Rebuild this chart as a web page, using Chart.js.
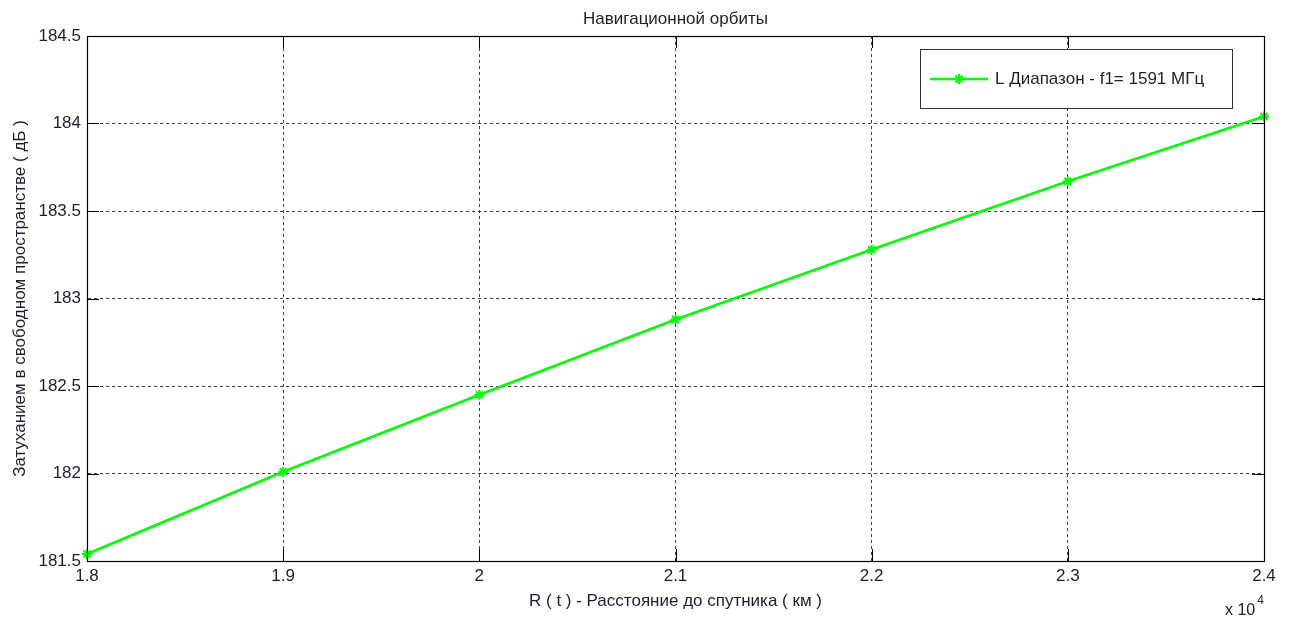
<!DOCTYPE html>
<html>
<head>
<meta charset="utf-8">
<script src="https://cdn.jsdelivr.net/npm/chart.js@4/dist/chart.umd.min.js"></script>
<style>
html,body{margin:0;padding:0;background:#fff;}
#wrap{width:1294px;height:621px;position:relative;}
</style>
</head>
<body>
<div id="wrap"><canvas id="c" width="1294" height="621"></canvas></div>
<script>
// Data (R in units of 10^4 km)
const distances = [1.8, 1.9, 2.0, 2.1, 2.2, 2.3, 2.4];
const lossDb = [181.54, 182.01, 182.45, 182.88, 183.28, 183.67, 184.04];
const seriesLabel = 'L Диапазон - f1= 1591 МГц';
const chartTitle = 'Навигационной орбиты';
const xTitle = 'R ( t ) - Расстояние до спутника ( км )';
const yTitle = 'Затуханием в свободном пространстве ( дБ )';
const xMultiplier = ['x 10', '4'];

const FONT = '"Liberation Sans", Arial, sans-serif';
const TEXT = '#1e1e2e';
const GREEN = '#00ff00';

const boxPlugin = {
  id: 'boxPlugin',
  afterDatasetsDraw(chart) {
    const {ctx, chartArea: a, scales} = chart;
    ctx.save();
    // inward ticks
    ctx.strokeStyle = '#000';
    ctx.lineWidth = 1;
    const L = 12;
    scales.x.ticks.forEach(t => {
      const x = Math.round(scales.x.getPixelForValue(t.value)) + 0.5;
      ctx.beginPath();
      ctx.moveTo(x, a.bottom); ctx.lineTo(x, a.bottom - L);
      ctx.moveTo(x, a.top); ctx.lineTo(x, a.top + L);
      ctx.stroke();
    });
    scales.y.ticks.forEach(t => {
      const y = Math.round(scales.y.getPixelForValue(t.value)) + 0.5;
      ctx.beginPath();
      ctx.moveTo(a.left, y); ctx.lineTo(a.left + L, y);
      ctx.moveTo(a.right, y); ctx.lineTo(a.right - L, y);
      ctx.stroke();
    });
    // frame
    ctx.strokeStyle = '#000';
    ctx.lineWidth = 1.2;
    ctx.strokeRect(Math.round(a.left) + 0.5, Math.round(a.top) + 0.5, Math.round(a.right - a.left), Math.round(a.bottom - a.top));
    // legend box
    const lx = 920, ly = 49, lw = 312, lh = 59;
    ctx.fillStyle = '#fff';
    ctx.fillRect(lx, ly, lw, lh);
    ctx.strokeStyle = '#333';
    ctx.lineWidth = 1;
    ctx.strokeRect(lx + 0.5, ly + 0.5, lw, lh);
    const cy = ly + 30;
    ctx.strokeStyle = GREEN;
    ctx.lineWidth = 2.5;
    ctx.beginPath(); ctx.moveTo(930, cy); ctx.lineTo(988, cy); ctx.stroke();
    // star marker
    const mx = 959, r = 5;
    ctx.lineWidth = 2;
    ctx.beginPath();
    ctx.moveTo(mx - r, cy); ctx.lineTo(mx + r, cy);
    ctx.moveTo(mx, cy - r); ctx.lineTo(mx, cy + r);
    ctx.moveTo(mx - r*0.7, cy - r*0.7); ctx.lineTo(mx + r*0.7, cy + r*0.7);
    ctx.moveTo(mx - r*0.7, cy + r*0.7); ctx.lineTo(mx + r*0.7, cy - r*0.7);
    ctx.stroke();
    ctx.fillStyle = TEXT;
    ctx.font = '17px ' + FONT;
    ctx.textBaseline = 'middle';
    ctx.textAlign = 'left';
    ctx.fillText(seriesLabel, 995, cy);
    // x 10^4 multiplier
    ctx.font = '16px ' + FONT;
    ctx.textBaseline = 'alphabetic';
    ctx.fillText(xMultiplier[0], 1225, 615);
    const w = ctx.measureText(xMultiplier[0]).width;
    ctx.font = '12px ' + FONT;
    ctx.fillText(xMultiplier[1], 1225 + w + 2, 604);
    ctx.restore();
  }
};

const gridStyle = {
  color: 'rgba(30,30,30,0.85)',
  lineWidth: 1,
  drawTicks: false,
  tickLength: 0
};

new Chart(document.getElementById('c'), {
  type: 'line',
  data: {
    datasets: [{
      label: seriesLabel,
      data: distances.map((d, i) => ({x: d, y: lossDb[i]})),
      borderColor: GREEN,
      backgroundColor: GREEN,
      borderWidth: 2.5,
      pointStyle: 'star',
      pointRadius: 5,
      pointBorderWidth: 2,
      pointBorderColor: GREEN,
      pointBackgroundColor: GREEN,
      tension: 0,
      clip: false
    }]
  },
  options: {
    responsive: false,
    animation: false,
    devicePixelRatio: 1,
    layout: {padding: {top: 0, left: 0, right: 30, bottom: 0}},
    plugins: {
      legend: {display: false},
      tooltip: {enabled: false},
      title: {
        display: true,
        fullSize: false,
        text: chartTitle,
        color: TEXT,
        font: {family: FONT, size: 17, weight: 'normal'},
        padding: {top: 8.8, bottom: 6.8}
      }
    },
    scales: {
      x: {
        type: 'linear',
        min: 1.8,
        max: 2.4,
        ticks: {
          stepSize: 0.1,
          padding: 5,
          color: TEXT,
          font: {family: FONT, size: 17},
          maxRotation: 0,
          callback: v => String(Math.round(v * 10) / 10)
        },
        grid: Object.assign({}, gridStyle),
        border: {display: true, color: '#000', dash: [3, 3], width: 1},
        title: {
          display: true,
          text: xTitle,
          color: TEXT,
          font: {family: FONT, size: 17},
          padding: {top: 0, bottom: 9.8}
        },
        afterFit: s => { s.height = 60; }
      },
      y: {
        type: 'linear',
        min: 181.5,
        max: 184.5,
        ticks: {
          stepSize: 0.5,
          padding: 6,
          color: TEXT,
          font: {family: FONT, size: 17},
          callback: v => String(Math.round(v * 10) / 10)
        },
        grid: Object.assign({}, gridStyle),
        border: {display: true, color: '#000', dash: [3, 3], width: 1},
        title: {
          display: true,
          text: yTitle,
          color: TEXT,
          font: {family: FONT, size: 17},
          padding: {top: 10, bottom: 0}
        },
        afterFit: s => { s.width = 87; }
      }
    }
  },
  plugins: [boxPlugin]
});
</script>
</body>
</html>
